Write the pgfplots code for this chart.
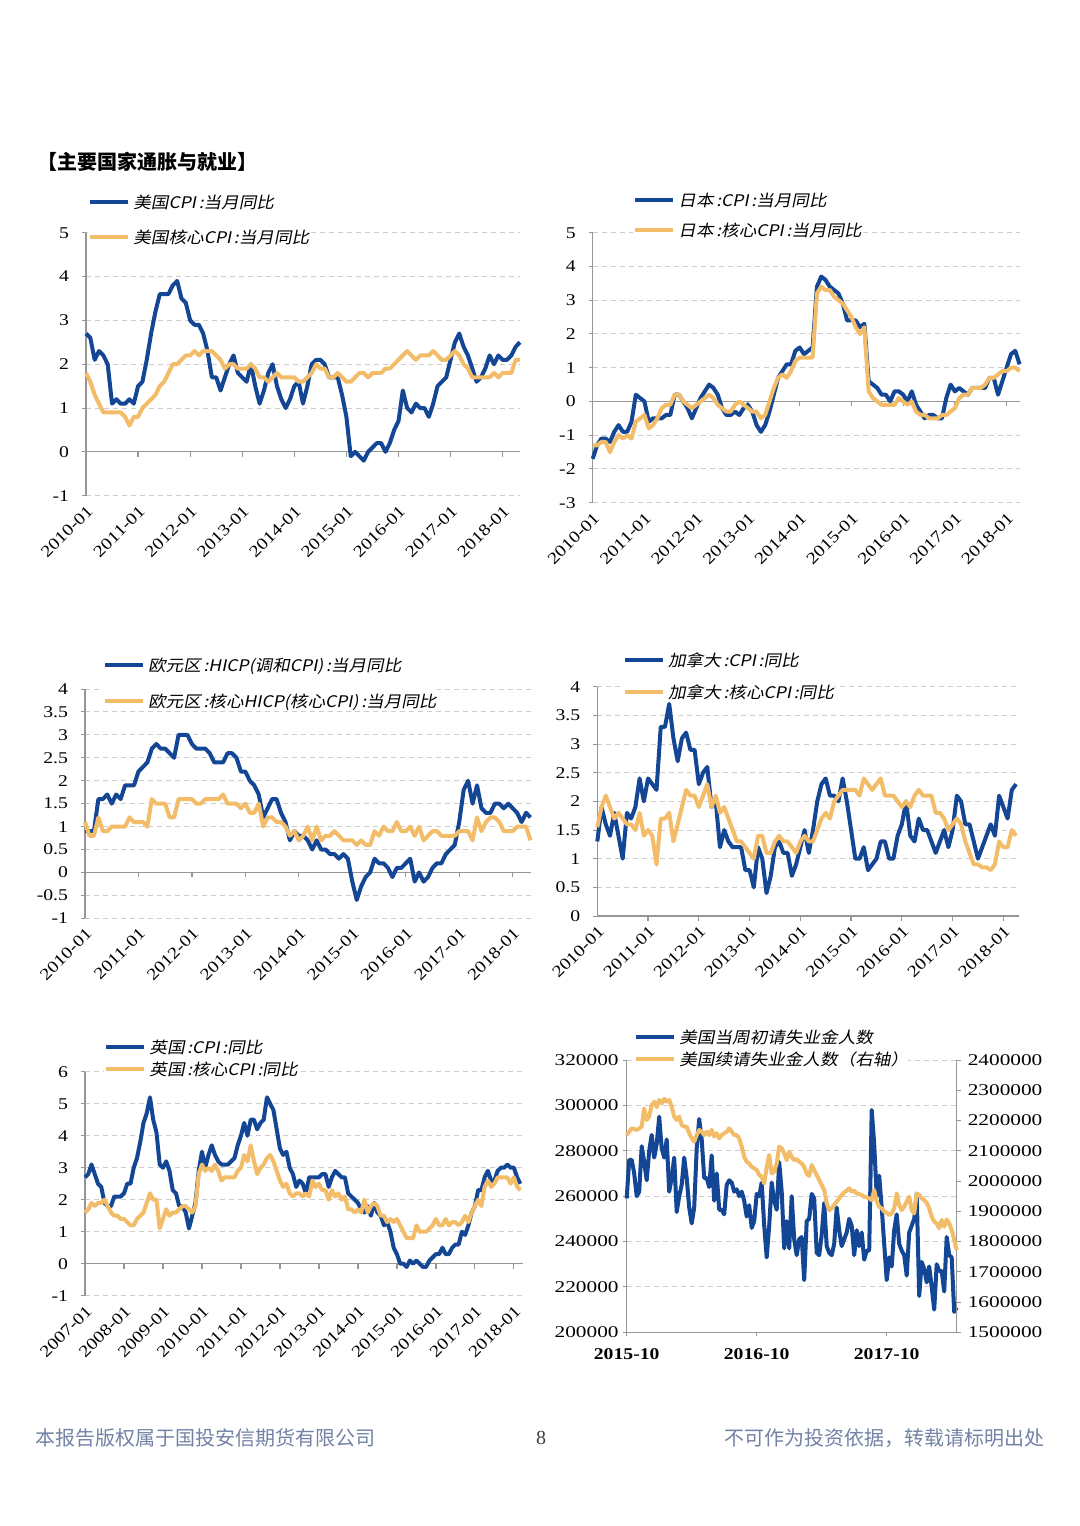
\documentclass[border=0pt]{standalone}
\usepackage{fontspec}
\usepackage{pgfplots}
\usepackage{pgfplotstable}
\pgfplotsset{compat=1.18}
\setmainfont{Liberation Serif}
\newfontfamily\tickfam{Liberation Serif}[FakeStretch=1.2]
\newfontfamily\tickfamW{Liberation Serif}[FakeStretch=1.3]
\newfontfamily\cjkleg{Noto Sans CJK SC}[FakeSlant=0.2,FakeStretch=1.1]
\newfontfamily\cjk{Noto Sans CJK SC}
\definecolor{cblue}{RGB}{20,70,150}
\definecolor{corange}{RGB}{242,188,104}
\definecolor{axgray}{RGB}{150,150,150}
\definecolor{gridgray}{RGB}{205,205,205}
\definecolor{foot}{RGB}{115,130,165}

\pgfplotstableread[row sep=\\]{h c\\
2.7 1.8\\2.6 1.6\\2.1 1.3\\2.3 1.1\\2.2 0.9\\2.0 0.9\\1.1 0.9\\1.2 0.9\\1.1 0.9\\1.1 0.8\\1.2 0.6\\1.1 0.8\\1.5 0.8\\
1.6 1.0\\2.1 1.1\\2.7 1.2\\3.2 1.3\\3.6 1.5\\3.6 1.6\\3.6 1.8\\3.8 2.0\\3.9 2.0\\3.5 2.1\\3.4 2.2\\3.0 2.2\\
2.9 2.3\\2.9 2.2\\2.7 2.3\\2.3 2.3\\1.7 2.3\\1.7 2.2\\1.4 2.1\\1.7 1.9\\2.0 2.0\\2.2 2.0\\1.8 1.9\\1.7 1.9\\
1.6 1.9\\2.0 2.0\\1.5 1.9\\1.1 1.7\\1.4 1.7\\1.8 1.6\\2.0 1.7\\1.5 1.8\\1.2 1.7\\1.0 1.7\\1.2 1.7\\1.5 1.7\\
1.6 1.6\\1.1 1.6\\1.5 1.7\\2.0 1.8\\2.1 2.0\\2.1 1.9\\2.0 1.9\\1.7 1.7\\1.7 1.7\\1.7 1.8\\1.3 1.7\\0.8 1.6\\
-0.1 1.6\\0.0 1.7\\-0.1 1.8\\-0.2 1.8\\0.0 1.7\\0.1 1.8\\0.2 1.8\\0.2 1.8\\0.0 1.9\\0.2 1.9\\0.5 2.0\\0.7 2.1\\
1.4 2.2\\1.0 2.3\\0.9 2.2\\1.1 2.1\\1.0 2.2\\1.0 2.2\\0.8 2.2\\1.1 2.3\\1.5 2.2\\1.6 2.1\\1.7 2.1\\2.1 2.2\\
2.5 2.3\\2.7 2.2\\2.4 2.0\\2.2 1.9\\1.9 1.7\\1.6 1.7\\1.7 1.7\\1.9 1.7\\2.2 1.7\\2.0 1.8\\2.2 1.7\\2.1 1.8\\
2.1 1.8\\2.2 1.8\\2.4 2.1\\2.5 2.1\\
}\tabUS

\pgfplotstableread[row sep=\\]{h c\\
-1.7 -1.3\\
-1.3 -1.3\\-1.1 -1.2\\-1.1 -1.2\\-1.2 -1.5\\-0.9 -1.2\\-0.7 -1.0\\-0.9 -1.1\\-0.9 -1.0\\-0.6 -1.1\\0.2 -0.6\\0.1 -0.5\\0.0 -0.4\\
-0.6 -0.8\\-0.5 -0.7\\-0.5 -0.5\\-0.5 -0.2\\-0.4 -0.1\\-0.4 -0.1\\0.2 0.2\\0.2 0.2\\0.0 0.0\\-0.2 -0.1\\-0.5 -0.2\\-0.2 -0.1\\
0.1 0.0\\0.3 0.1\\0.5 0.2\\0.4 0.1\\0.2 -0.1\\-0.2 -0.2\\-0.4 -0.3\\-0.4 -0.3\\-0.3 -0.1\\-0.4 0.0\\-0.2 -0.1\\-0.1 -0.2\\
-0.3 -0.3\\-0.7 -0.3\\-0.9 -0.5\\-0.7 -0.4\\-0.3 0.0\\0.2 0.4\\0.7 0.7\\0.9 0.8\\1.1 0.7\\1.1 0.9\\1.5 1.2\\1.6 1.3\\
1.4 1.3\\1.5 1.3\\1.6 1.3\\3.4 3.2\\3.7 3.4\\3.6 3.3\\3.4 3.3\\3.3 3.1\\3.2 3.0\\2.9 2.9\\2.4 2.7\\2.4 2.5\\
2.4 2.2\\2.2 2.0\\2.3 2.2\\0.6 0.3\\0.5 0.1\\0.4 0.0\\0.2 -0.1\\0.2 -0.1\\0.0 -0.1\\0.3 -0.1\\0.3 0.1\\0.2 0.0\\
0.0 -0.1\\0.3 0.0\\-0.1 -0.3\\-0.3 -0.4\\-0.5 -0.4\\-0.4 -0.5\\-0.4 -0.5\\-0.5 -0.5\\-0.5 -0.4\\0.1 -0.4\\0.5 -0.3\\0.3 -0.2\\
0.4 0.1\\0.3 0.2\\0.2 0.2\\0.4 0.4\\0.4 0.4\\0.4 0.4\\0.4 0.5\\0.7 0.7\\0.7 0.7\\0.2 0.8\\0.6 0.9\\1.0 0.9\\
1.4 1.0\\1.5 1.0\\1.1 0.9\\
}\tabJP

\pgfplotstableread[row sep=\\]{h c\\
0.9 1.1\\
0.9 0.8\\0.9 0.8\\1.6 1.2\\1.6 0.9\\1.7 0.9\\1.5 1.0\\1.7 1.0\\1.6 1.0\\1.9 1.0\\1.9 1.2\\1.9 1.1\\2.2 1.1\\
2.3 1.1\\2.4 1.0\\2.7 1.6\\2.8 1.5\\2.7 1.5\\2.7 1.5\\2.6 1.2\\2.5 1.2\\3.0 1.6\\3.0 1.6\\3.0 1.6\\2.8 1.6\\
2.7 1.5\\2.7 1.5\\2.7 1.6\\2.6 1.6\\2.4 1.6\\2.4 1.6\\2.4 1.7\\2.6 1.5\\2.6 1.5\\2.5 1.5\\2.2 1.4\\2.2 1.5\\
2.0 1.3\\1.9 1.3\\1.7 1.5\\1.2 1.0\\1.4 1.2\\1.6 1.2\\1.6 1.1\\1.3 1.1\\1.1 1.0\\0.7 0.8\\0.9 0.9\\0.8 0.7\\
0.8 0.8\\0.7 1.0\\0.5 0.7\\0.7 1.0\\0.5 0.7\\0.5 0.8\\0.4 0.8\\0.4 0.9\\0.3 0.8\\0.4 0.7\\0.3 0.7\\-0.2 0.7\\
-0.6 0.6\\-0.3 0.7\\-0.1 0.6\\0.0 0.6\\0.3 0.9\\0.2 0.8\\0.2 1.0\\0.1 0.9\\-0.1 0.9\\0.1 1.1\\0.1 0.9\\0.2 0.9\\
0.3 1.0\\-0.2 0.8\\0.0 1.0\\-0.2 0.7\\-0.1 0.8\\0.1 0.9\\0.2 0.9\\0.2 0.8\\0.4 0.8\\0.5 0.8\\0.6 0.8\\1.1 0.9\\
1.8 0.9\\2.0 0.9\\1.5 0.7\\1.9 1.2\\1.4 0.9\\1.3 1.1\\1.3 1.2\\1.5 1.2\\1.5 1.1\\1.4 0.9\\1.5 0.9\\1.4 0.9\\
1.3 1.0\\1.1 1.0\\1.3 1.0\\1.2 0.7\\
}\tabEU

\pgfplotstableread[row sep=\\]{h c\\
1.3 1.55\\
1.9 1.9\\1.6 2.1\\1.4 1.9\\1.8 1.7\\1.4 1.8\\1.0 1.7\\1.8 1.6\\1.7 1.6\\1.9 1.5\\2.4 1.8\\2.0 1.4\\2.4 1.5\\
2.3 1.4\\2.2 0.9\\3.3 1.7\\3.3 1.7\\3.7 1.8\\3.1 1.3\\2.7 1.6\\3.1 1.9\\3.2 2.2\\2.9 2.1\\2.9 2.1\\2.3 1.9\\
2.5 2.1\\2.6 2.3\\1.9 1.9\\2.0 2.1\\1.2 1.8\\1.5 1.9\\1.3 1.7\\1.2 1.5\\1.2 1.3\\1.2 1.3\\0.8 1.2\\0.8 1.1\\
0.5 1.0\\1.2 1.4\\1.0 1.4\\0.4 1.1\\0.7 1.1\\1.2 1.3\\1.3 1.4\\1.1 1.3\\1.1 1.3\\0.7 1.2\\0.9 1.1\\1.2 1.3\\
1.5 1.4\\1.1 1.3\\1.5 1.3\\2.0 1.5\\2.3 1.7\\2.4 1.8\\2.1 1.7\\2.1 2.0\\2.0 2.1\\2.4 2.2\\2.0 2.2\\1.5 2.2\\
1.0 2.2\\1.0 2.1\\1.2 2.4\\0.8 2.3\\0.9 2.2\\1.0 2.3\\1.3 2.4\\1.3 2.1\\1.0 2.1\\1.0 2.1\\1.4 2.0\\1.6 1.9\\
2.0 2.0\\1.4 1.9\\1.3 2.1\\1.7 2.2\\1.5 2.1\\1.5 2.1\\1.3 2.1\\1.1 1.8\\1.3 1.8\\1.5 1.7\\1.2 1.5\\1.5 1.6\\
2.1 1.7\\2.0 1.6\\1.6 1.3\\1.6 1.1\\1.3 0.9\\1.0 0.9\\1.2 0.85\\1.4 0.85\\1.6 0.8\\1.4 0.9\\2.1 1.3\\1.9 1.2\\
1.7 1.2\\2.2 1.5\\2.3 1.4\\
}\tabCA

\pgfplotstableread[row sep=\\]{h c\\
2.7 1.6\\2.8 1.7\\3.1 1.9\\2.8 1.8\\2.5 1.9\\2.4 1.9\\1.9 2.0\\1.8 1.8\\1.8 1.6\\2.1 1.5\\2.1 1.5\\2.1 1.4\\
2.2 1.4\\2.5 1.3\\2.5 1.2\\3.0 1.2\\3.3 1.4\\3.8 1.5\\4.4 1.6\\4.7 1.9\\5.2 2.2\\4.5 2.0\\4.1 2.0\\3.1 1.1\\
3.0 1.4\\3.2 1.7\\2.9 1.5\\2.3 1.6\\2.2 1.6\\1.8 1.7\\1.8 1.8\\1.6 1.8\\1.1 1.7\\1.5 1.6\\1.9 1.8\\2.9 2.8\\
3.5 3.1\\3.0 2.9\\3.4 3.0\\3.7 2.9\\3.4 3.1\\3.2 2.9\\3.1 2.6\\3.1 2.7\\3.1 2.7\\3.2 2.7\\3.3 2.7\\3.7 2.9\\
4.0 3.0\\4.4 3.4\\4.0 3.2\\4.5 3.7\\4.5 3.2\\4.2 2.8\\4.4 3.0\\4.5 3.1\\5.2 3.3\\5.0 3.4\\4.8 3.2\\4.2 2.9\\
3.6 2.6\\3.4 2.4\\3.5 2.5\\3.0 2.2\\2.8 2.1\\2.4 2.2\\2.6 2.2\\2.5 2.1\\2.2 2.2\\2.7 2.1\\2.7 2.6\\2.7 2.4\\
2.7 2.5\\2.8 2.3\\2.8 2.3\\2.4 2.0\\2.7 2.3\\2.9 2.1\\2.8 2.2\\2.7 2.0\\2.7 2.1\\2.2 1.7\\2.1 1.7\\2.0 1.6\\
1.9 1.7\\1.7 1.6\\1.6 2.0\\1.8 1.6\\1.5 1.8\\1.9 1.9\\1.6 1.8\\1.5 1.5\\1.2 1.5\\1.3 1.3\\1.0 1.4\\0.5 1.3\\
0.3 1.4\\0.0 1.2\\0.0 1.0\\-0.1 0.8\\0.1 0.8\\0.0 0.8\\0.1 1.2\\0.0 1.0\\-0.1 1.0\\-0.1 1.0\\0.1 1.1\\0.2 1.2\\
0.3 1.4\\0.3 1.2\\0.5 1.2\\0.3 1.4\\0.3 1.2\\0.5 1.3\\0.6 1.3\\0.6 1.2\\1.0 1.3\\0.9 1.5\\1.2 1.3\\1.6 1.6\\
1.8 1.8\\2.3 2.0\\2.3 1.8\\2.7 2.4\\2.9 2.6\\2.6 2.4\\2.6 2.5\\2.9 2.7\\3.0 2.7\\3.0 2.7\\3.1 2.7\\3.0 2.5\\
3.0 2.7\\2.7 2.4\\2.5 2.3\\
}\tabUK

\pgfplotstableread[row sep=\\]{a b\\
259000 2152000\\276000 2163000\\276000 2174000\\270000 2172000\\260000 2169000\\262000 2174000\\282000 2180000\\
275000 2240000\\267000 2202000\\280000 2213000\\287000 2251000\\277000 2262000\\283000 2244000\\295000 2268000\\
281000 2257000\\277000 2272000\\285000 2262000\\262000 2268000\\268000 2246000\\277000 2213000\\253000 2202000\\
260000 2213000\\265000 2185000\\277000 2180000\\268000 2180000\\255000 2158000\\248000 2141000\\255000 2130000\\
281000 2152000\\294000 2169000\\285000 2163000\\268000 2152000\\268000 2163000\\264000 2152000\\278000 2169000\\
258000 2147000\\270000 2158000\\254000 2141000\\254000 2152000\\252000 2158000\\265000 2163000\\267000 2174000\\
266000 2163000\\262000 2152000\\263000 2152000\\260000 2141000\\262000 2114000\\258000 2080000\\251000 2064000\\
256000 2058000\\246000 2047000\\249000 2042000\\261000 2036000\\260000 2020000\\266000 2014000\\247000 1992000\\
233000 2047000\\247000 2086000\\266000 2025000\\258000 2031000\\254000 2058000\\275000 2114000\\262000 2108000\\
237000 2092000\\249000 2069000\\237000 2097000\\260000 2080000\\241000 2069000\\234000 2072000\\241000 2064000\\
242000 2058000\\223000 2047000\\249000 2025000\\250000 2017000\\261000 2053000\\259000 2036000\\235000 2020000\\
234000 2003000\\243000 1987000\\257000 1970000\\238000 1926000\\235000 1904000\\234000 1910000\\239000 1921000\\
255000 1932000\\245000 1943000\\238000 1954000\\241000 1962000\\244000 1968000\\250000 1976000\\247000 1965000\\
234000 1968000\\245000 1959000\\238000 1957000\\244000 1954000\\232000 1948000\\236000 1946000\\236000 1943000\\
298000 1937000\\283000 1970000\\260000 1932000\\269000 1915000\\255000 1910000\\239000 1899000\\223000 1895000\\
233000 1888000\\229000 1893000\\245000 1910000\\252000 1959000\\239000 1921000\\236000 1904000\\234000 1915000\\
225000 1932000\\244000 1948000\\247000 1904000\\250000 1893000\\261000 1959000\\216000 1954000\\231000 1943000\\
228000 1937000\\222000 1928000\\229000 1910000\\220000 1882000\\210000 1866000\\230000 1860000\\227000 1844000\\
227000 1871000\\218000 1849000\\242000 1873000\\234000 1860000\\233000 1838000\\209000 1805000\\211000 1772000\\
}\tabCL

\tikzset{axl/.style={axgray, line width=0.6pt}}
\pgfplotsset{
  base/.style={
    scale only axis, clip=false, anchor=south west,
    axis line style={draw=none},
    tick align=outside, major tick length=2pt,
    xtick style={draw=none},
    ytick style={draw=axgray, line width=0.5pt},
    ytick pos=left,
    ymajorgrids,
    grid style={gridgray, dash pattern=on 2.5pt off 2pt, line width=0.5pt},
    tick label style={font=\fontsize{8.2}{9}\selectfont\tickfam},
    yticklabel style={xshift=-3pt},
    legend cell align=left,
    legend style={draw=none, fill=white, inner sep=0pt, anchor=north west,
      font=\fontsize{8}{9}\selectfont\cjkleg,
      nodes={inner sep=0pt, text height=7pt, text depth=0.6pt},
      /tikz/column sep=1.5pt},
    legend image code/.code={\draw[##1] (0pt,0pt) -- (19pt,0pt);},
  },
  rotx/.style={xticklabel style={rotate=45, anchor=north east, inner sep=1.5pt}},
  bl/.style={cblue, line width=2pt, line join=round},
  or/.style={corange, line width=2pt, line join=round},
}

\begin{document}
\begin{tikzpicture}
\path[use as bounding box, fill=white] (0,0) rectangle (540pt,-763pt);

% title
\node[anchor=west, inner sep=0pt, font=\fontsize{10}{11}\selectfont\cjk\bfseries] at (18.5pt,-81pt) {【主要国家通胀与就业】};

% ---------- chart 1: US ----------
\begin{axis}[base, rotx, at={(43pt,-247.85pt)}, width=217pt, height=131.5pt,
  xmin=0, xmax=100, ymin=-1, ymax=5,
  ytick={-1,0,1,2,3,4,5}, yticklabels={-1,0,1,2,3,4,5},
  xtick={0,12,24,36,48,60,72,84,96},
  xticklabels={2010-01,2011-01,2012-01,2013-01,2014-01,2015-01,2016-01,2017-01,2018-01},
  legend style={at={(0.0046,1.1468)}, row sep=9.9pt}]
\draw[axl] (rel axis cs:0,0) -- (rel axis cs:0,1);
\draw[axl] (axis cs:0,0) -- (axis cs:100,0);
\draw[axl] (axis cs:12,0) -- ++(0pt,-2.5pt) (axis cs:24,0) -- ++(0pt,-2.5pt) (axis cs:36,0) -- ++(0pt,-2.5pt) (axis cs:48,0) -- ++(0pt,-2.5pt) (axis cs:60,0) -- ++(0pt,-2.5pt) (axis cs:72,0) -- ++(0pt,-2.5pt) (axis cs:84,0) -- ++(0pt,-2.5pt) (axis cs:96,0) -- ++(0pt,-2.5pt);
\addplot[bl] table[x expr=\coordindex, y=h] {\tabUS};
\addplot[or] table[x expr=\coordindex, y=c] {\tabUS};
\legend{美国CPI\,:当月同比, 美国核心CPI\,:当月同比}
\end{axis}

% ---------- chart 2: Japan ----------
\begin{axis}[base, rotx, at={(296.35pt,-251.35pt)}, width=213.65pt, height=135pt,
  xmin=0, xmax=99.1, ymin=-3, ymax=5,
  ytick={-3,-2,-1,0,1,2,3,4,5}, yticklabels={-3,-2,-1,0,1,2,3,4,5},
  xtick={0,12,24,36,48,60,72,84,96},
  xticklabels={2010-01,2011-01,2012-01,2013-01,2014-01,2015-01,2016-01,2017-01,2018-01},
  legend style={at={(0.0943,1.1493)}, row sep=7.4pt}]
\draw[axl] (rel axis cs:0,0) -- (rel axis cs:0,1);
\draw[axl] (axis cs:0,0) -- (axis cs:99.1,0);
\draw[axl] (axis cs:12,0) -- ++(0pt,-2.5pt) (axis cs:24,0) -- ++(0pt,-2.5pt) (axis cs:36,0) -- ++(0pt,-2.5pt) (axis cs:48,0) -- ++(0pt,-2.5pt) (axis cs:60,0) -- ++(0pt,-2.5pt) (axis cs:72,0) -- ++(0pt,-2.5pt) (axis cs:84,0) -- ++(0pt,-2.5pt) (axis cs:96,0) -- ++(0pt,-2.5pt);
\addplot[bl] table[x expr=\coordindex, y=h] {\tabJP};
\addplot[or] table[x expr=\coordindex, y=c] {\tabJP};
\legend{日本\,:CPI\,:当月同比, 日本\,:核心CPI\,:当月同比}
\end{axis}

% ---------- chart 3: Euro area ----------
\begin{axis}[base, rotx, at={(42.5pt,-459.15pt)}, width=222.75pt, height=114.65pt,
  xmin=0, xmax=100, ymin=-1, ymax=4,
  ytick={-1,-0.5,0,0.5,1,1.5,2,2.5,3,3.5,4},
  yticklabels={-1,-0.5,0,0.5,1,1.5,2,2.5,3,3.5,4},
  xtick={0,12,24,36,48,60,72,84,96},
  xticklabels={2010-01,2011-01,2012-01,2013-01,2014-01,2015-01,2016-01,2017-01,2018-01},
  legend style={at={(0.0397,1.1409)}, row sep=10.75pt}]
\draw[axl] (rel axis cs:0,0) -- (rel axis cs:0,1);
\draw[axl] (axis cs:0,0) -- (axis cs:100,0);
\draw[axl] (axis cs:12,0) -- ++(0pt,-2.5pt) (axis cs:24,0) -- ++(0pt,-2.5pt) (axis cs:36,0) -- ++(0pt,-2.5pt) (axis cs:48,0) -- ++(0pt,-2.5pt) (axis cs:60,0) -- ++(0pt,-2.5pt) (axis cs:72,0) -- ++(0pt,-2.5pt) (axis cs:84,0) -- ++(0pt,-2.5pt) (axis cs:96,0) -- ++(0pt,-2.5pt);
\addplot[bl] table[x expr=\coordindex, y=h] {\tabEU};
\addplot[or] table[x expr=\coordindex, y=c] {\tabEU};
\legend{欧元区\,:HICP(调和CPI)\,:当月同比, 欧元区\,:核心HICP(核心CPI)\,:当月同比}
\end{axis}

% ---------- chart 4: Canada ----------
\begin{axis}[base, rotx, at={(298.65pt,-458pt)}, width=210.85pt, height=114.65pt,
  xmin=0, xmax=99.7, ymin=0, ymax=4,
  ytick={0,0.5,1,1.5,2,2.5,3,3.5,4},
  yticklabels={0,0.5,1,1.5,2,2.5,3,3.5,4},
  xtick={0,12,24,36,48,60,72,84,96},
  xticklabels={2010-01,2011-01,2012-01,2013-01,2014-01,2015-01,2016-01,2017-01,2018-01},
  legend style={at={(0.0602,1.1496)}, row sep=8.25pt}]
\draw[axl] (rel axis cs:0,0) -- (rel axis cs:0,1);
\draw[axl] (axis cs:0,0) -- (axis cs:99.7,0);
\draw[axl] (axis cs:12,0) -- ++(0pt,-2.5pt) (axis cs:24,0) -- ++(0pt,-2.5pt) (axis cs:36,0) -- ++(0pt,-2.5pt) (axis cs:48,0) -- ++(0pt,-2.5pt) (axis cs:60,0) -- ++(0pt,-2.5pt) (axis cs:72,0) -- ++(0pt,-2.5pt) (axis cs:84,0) -- ++(0pt,-2.5pt) (axis cs:96,0) -- ++(0pt,-2.5pt);
\addplot[bl] table[x expr=\coordindex, y=h] {\tabCA};
\addplot[or] table[x expr=\coordindex, y=c] {\tabCA};
\legend{加拿大\,:CPI\,:同比, 加拿大\,:核心CPI\,:同比}
\end{axis}

% ---------- chart 5: UK ----------
\begin{axis}[base, rotx, at={(42.5pt,-647.85pt)}, width=219.15pt, height=112pt,
  xmin=0, xmax=134.9, ymin=-1, ymax=6,
  ytick={-1,0,1,2,3,4,5,6}, yticklabels={-1,0,1,2,3,4,5,6},
  xtick={0,12,24,36,48,60,72,84,96,108,120,132},
  xticklabels={2007-01,2008-01,2009-01,2010-01,2011-01,2012-01,2013-01,2014-01,2015-01,2016-01,2017-01,2018-01},
  legend style={at={(0.0434,1.1455)}, row sep=3.2pt}]
\draw[axl] (rel axis cs:0,0) -- (rel axis cs:0,1);
\draw[axl] (axis cs:0,0) -- (axis cs:134.9,0);
\draw[axl] (axis cs:12,0) -- ++(0pt,-2.5pt) (axis cs:24,0) -- ++(0pt,-2.5pt) (axis cs:36,0) -- ++(0pt,-2.5pt) (axis cs:48,0) -- ++(0pt,-2.5pt) (axis cs:60,0) -- ++(0pt,-2.5pt) (axis cs:72,0) -- ++(0pt,-2.5pt) (axis cs:84,0) -- ++(0pt,-2.5pt) (axis cs:96,0) -- ++(0pt,-2.5pt) (axis cs:108,0) -- ++(0pt,-2.5pt) (axis cs:120,0) -- ++(0pt,-2.5pt) (axis cs:132,0) -- ++(0pt,-2.5pt);
\addplot[bl] table[x expr=\coordindex, y=h] {\tabUK};
\addplot[or] table[x expr=\coordindex, y=c] {\tabUK};
\legend{英国\,:CPI\,:同比, 英国\,:核心CPI\,:同比}
\end{axis}

% ---------- chart 6: jobless claims ----------
\begin{axis}[base, at={(313.35pt,-666.15pt)}, width=165pt, height=136.15pt,
  xmin=0, xmax=132, ymin=200000, ymax=320000, scaled y ticks=false,
  tick label style={font=\fontsize{8.2}{9}\selectfont\tickfamW},
  ytick={200000,220000,240000,260000,280000,300000,320000},
  yticklabels={200000,220000,240000,260000,280000,300000,320000},
  yticklabel style={xshift=4.5pt},
  xtick={0,52,104}, xticklabels={2015-10,2016-10,2017-10},
  xtick style={draw=axgray, line width=0.5pt}, xtick pos=bottom,
  xticklabel style={anchor=north, inner sep=2.5pt, yshift=-3.5pt, font=\fontsize{8.2}{9}\selectfont\tickfam\bfseries},
  legend style={at={(0.0221,1.1135)}, row sep=3.2pt}]
\draw[axl] (rel axis cs:0,0) -- (rel axis cs:0,1);
\draw[axl] (rel axis cs:0,0) -- (rel axis cs:1,0);
\addplot[bl] table[x expr=\coordindex, y=a] {\tabCL};
\addlegendentry{美国当周初请失业金人数}
\addlegendimage{or}
\addlegendentry{美国续请失业金人数（右轴）}
\end{axis}
\begin{axis}[base, at={(313.35pt,-666.15pt)}, width=165pt, height=136.15pt,
  xmin=0, xmax=132, ymin=1500000, ymax=2400000, scaled y ticks=false,
  tick label style={font=\fontsize{8.2}{9}\selectfont\tickfamW},
  hide x axis, ymajorgrids=false, ytick pos=right,
  ytick={1500000,1600000,1700000,1800000,1900000,2000000,2100000,2200000,2300000,2400000},
  yticklabels={1500000,1600000,1700000,1800000,1900000,2000000,2100000,2200000,2300000,2400000},
  yticklabel style={anchor=west, xshift=3pt}]
\draw[axl] (rel axis cs:1,0) -- (rel axis cs:1,1);
\addplot[or] table[x expr=\coordindex, y=b] {\tabCL};
\end{axis}

% footer
\node[anchor=west, inner sep=0pt, text=foot, font=\fontsize{10}{12}\selectfont\cjk] at (17.5pt,-719pt) {本报告版权属于国投安信期货有限公司};
\node[inner sep=0pt, text=black!75, font=\fontsize{10}{12}\selectfont] at (270.5pt,-719pt) {8};
\node[anchor=east, inner sep=0pt, text=foot, font=\fontsize{10}{12}\selectfont\cjk] at (522.5pt,-719pt) {不可作为投资依据，转载请标明出处};
\end{tikzpicture}
\end{document}
